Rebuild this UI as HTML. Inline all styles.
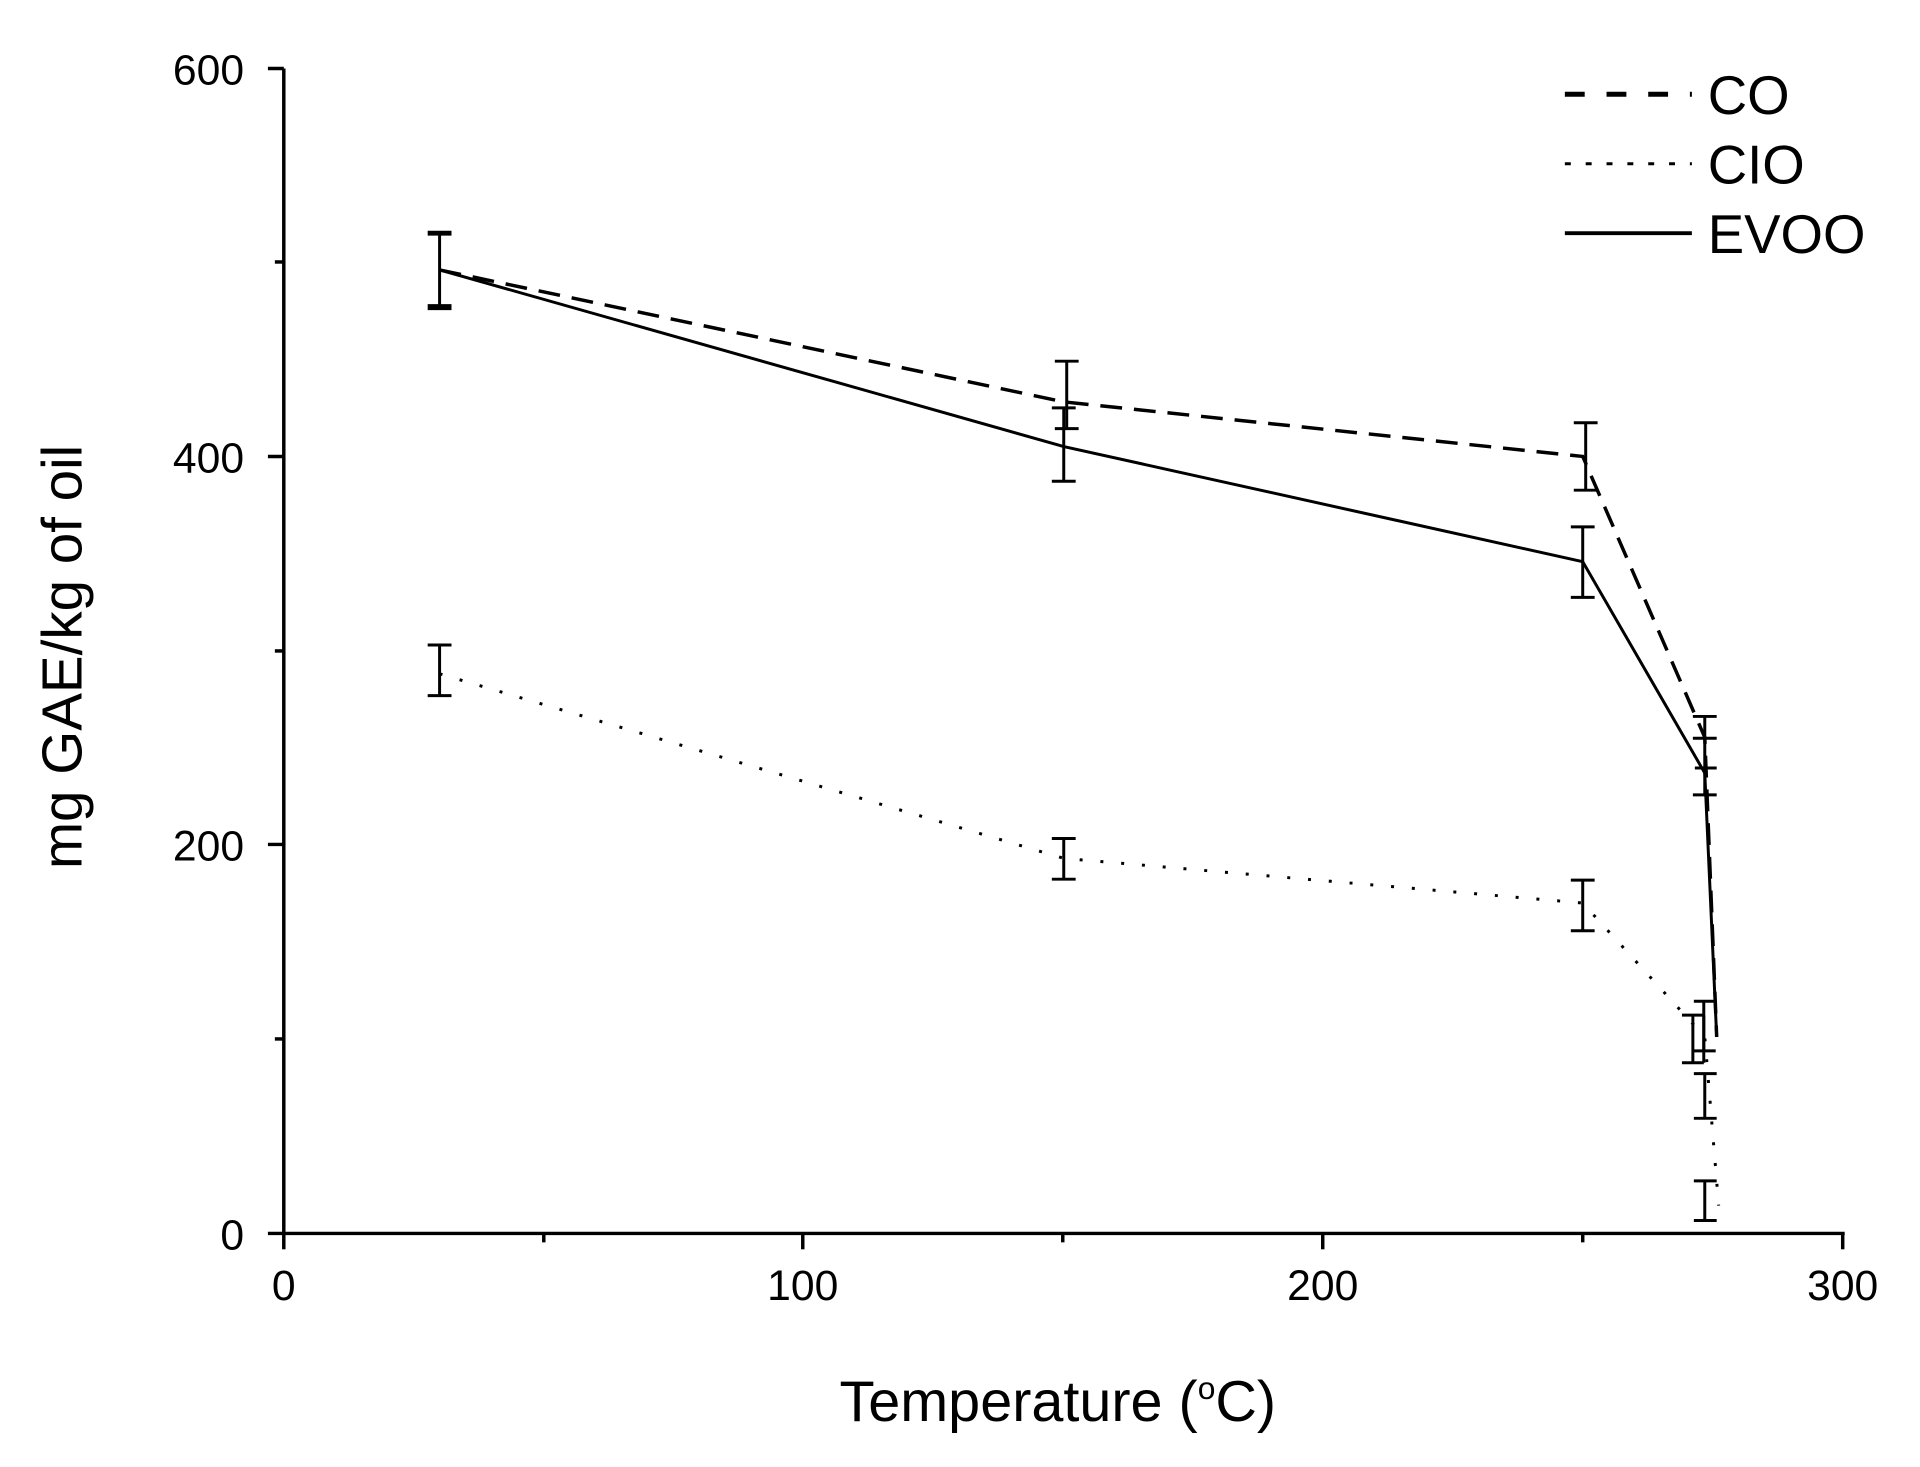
<!DOCTYPE html>
<html><head><style>body{margin:0;background:#fff}svg{display:block}</style></head><body>
<svg width="1920" height="1467" viewBox="0 0 1920 1467" xmlns="http://www.w3.org/2000/svg" font-family="Liberation Sans, Arial, sans-serif">
<rect width="1920" height="1467" fill="#fff"/>
<g transform="scale(0.9923)">
<g stroke="#000" stroke-width="3.5" fill="none">
<line x1="286" y1="69" x2="286" y2="1243"/>
<line x1="284" y1="1243" x2="1859" y2="1243"/>
<line x1="270" y1="69" x2="286" y2="69"/><line x1="270" y1="460" x2="286" y2="460"/><line x1="270" y1="851" x2="286" y2="851"/><line x1="270" y1="1243" x2="286" y2="1243"/>
<line x1="277" y1="264" x2="286" y2="264"/><line x1="277" y1="656" x2="286" y2="656"/><line x1="277" y1="1047" x2="286" y2="1047"/>
<line x1="286" y1="1243" x2="286" y2="1259"/><line x1="809" y1="1243" x2="809" y2="1259"/><line x1="1333" y1="1243" x2="1333" y2="1259"/><line x1="1857" y1="1243" x2="1857" y2="1259"/>
<line x1="548" y1="1243" x2="548" y2="1252"/><line x1="1071" y1="1243" x2="1071" y2="1252"/><line x1="1595" y1="1243" x2="1595" y2="1252"/>
</g>
<g font-size="43" text-anchor="end" fill="#000">
<text x="246" y="85">600</text><text x="246" y="476">400</text><text x="246" y="867">200</text><text x="246" y="1259">0</text>
</g>
<g font-size="43" text-anchor="middle" fill="#000">
<text x="286" y="1310">0</text><text x="809" y="1310">100</text><text x="1333" y="1310">200</text><text x="1857" y="1310">300</text>
</g>
<text x="1066" y="1432" font-size="58" text-anchor="middle">Temperature (<tspan font-size="32" dy="-22">o</tspan><tspan dy="22">C)</tspan></text>
<text transform="translate(82,662) rotate(-90)" font-size="57" text-anchor="middle">mg GAE/kg of oil</text>
<g fill="none" stroke="#000">
<polyline stroke-width="3.5" stroke-dasharray="22,12" points="443,272 1072,405 1595,460 1718,743 1730,1045"/>
<polyline stroke-width="3" points="443,272 1072,450 1595,566 1718,779 1730,1045"/>
<polyline stroke-width="3" stroke-dasharray="3,18" points="443,679 1072,865 1595,910 1718,1045 1732,1215"/>
</g>
<g stroke="#000" stroke-width="3" fill="none">
<path d="M443,234V311M431,234H455M431,311H455M431,236H455M431,308H455"/>
<path d="M1075,364V432M1063,364H1087M1063,432H1087"/>
<path d="M1072,411V485M1060,411H1084M1060,485H1084"/>
<path d="M1598,426V494M1586,426H1610M1586,494H1610"/>
<path d="M1595,531V602M1583,531H1607M1583,602H1607"/>
<path d="M1718,722V801M1706,722H1730M1706,744H1730M1708,774H1730M1706,801H1730"/>
<path d="M443,650V701M431,650H455M431,701H455"/>
<path d="M1072,845V886M1060,845H1084M1060,886H1084"/>
<path d="M1595,887V938M1583,887H1607M1583,938H1607"/>
<path d="M1706,1023V1071M1695,1023H1717M1695,1071H1717"/>
<path d="M1717,1023V1071"/>
<path d="M1717,1009V1059M1707,1009H1729M1707,1059H1729"/>
<path d="M1718,1082V1127M1707,1082H1730M1707,1127H1730"/>
<path d="M1718,1190V1230M1707,1190H1730M1707,1230H1730"/>
</g>
<g stroke="#000">
<line x1="1577" y1="95" x2="1705" y2="95" stroke-width="5" stroke-dasharray="20,22"/>
<line x1="1577" y1="165" x2="1705" y2="165" stroke-width="3" stroke-dasharray="6,15"/>
<line x1="1577" y1="235" x2="1705" y2="235" stroke-width="4"/>
</g>
<g font-size="55" fill="#000">
<text x="1721" y="115">CO</text><text x="1721" y="185">CIO</text><text x="1721" y="255">EVOO</text>
</g>
</g>
</svg>
</body></html>
